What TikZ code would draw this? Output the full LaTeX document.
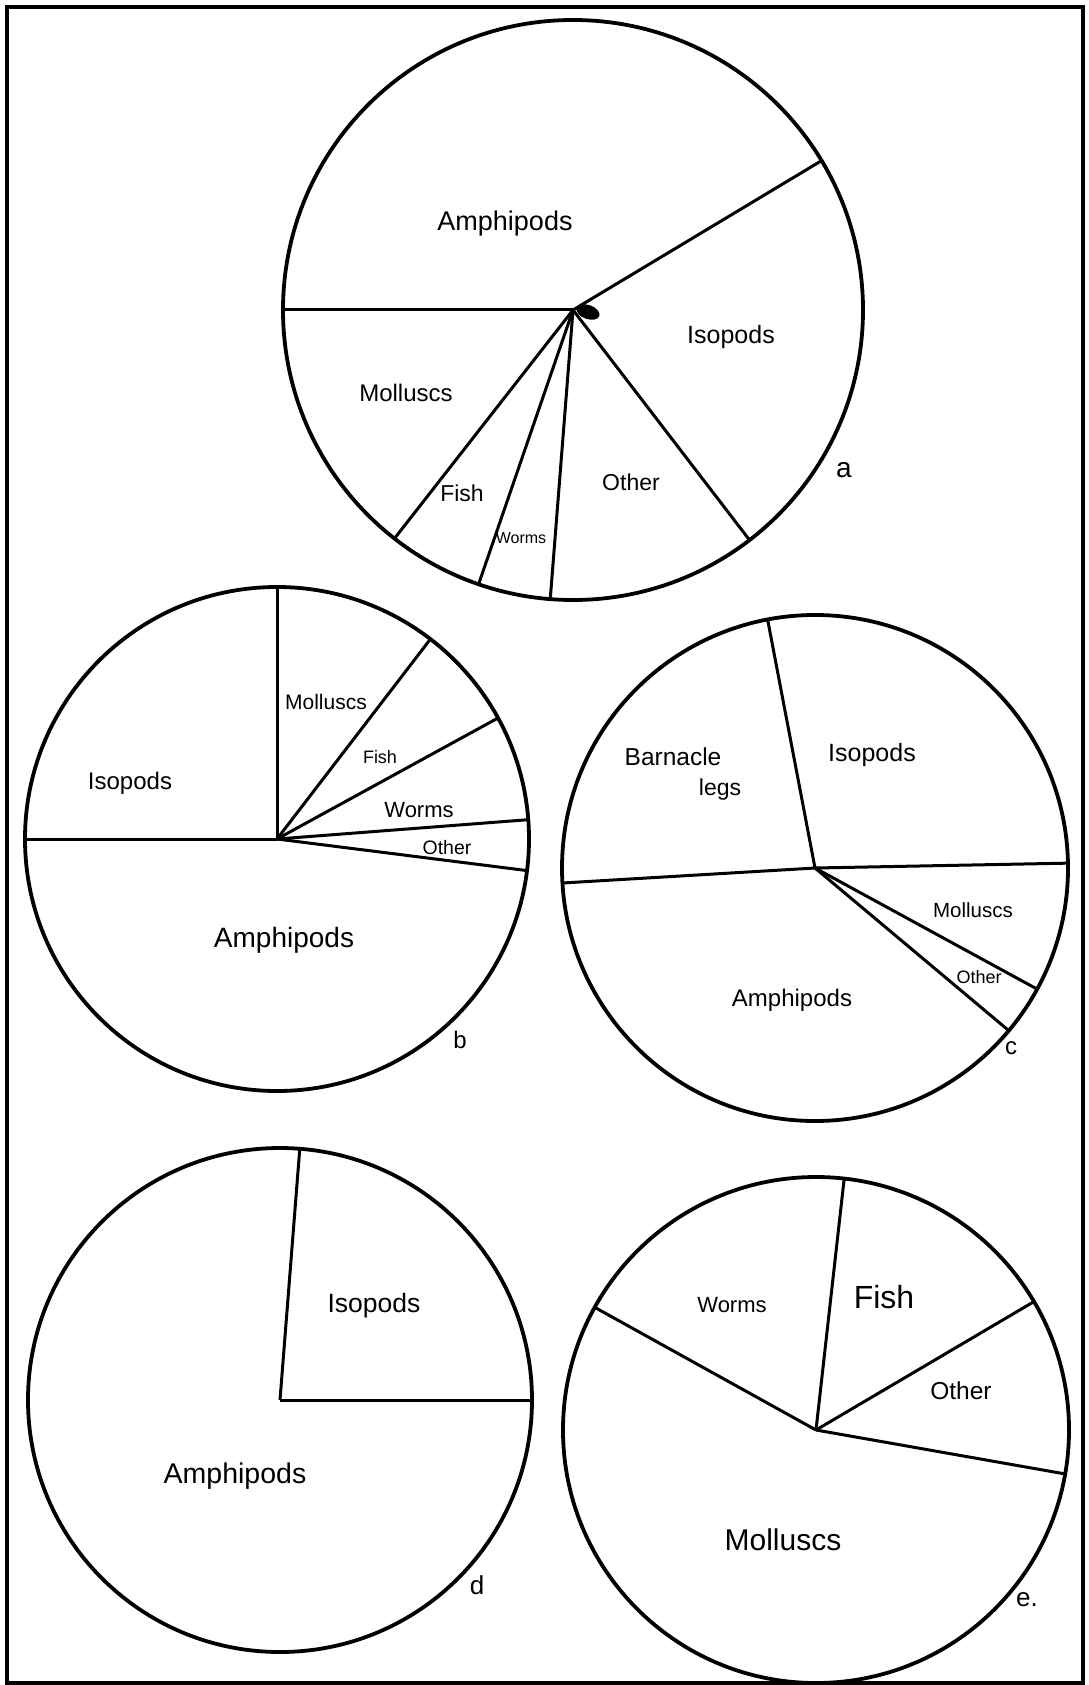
\documentclass[tikz,border=0pt]{standalone}
\usepackage{fontspec}
\setmainfont{Liberation Sans}
\newcommand{\fs}[1]{\fontsize{#1}{#1}\selectfont}
\begin{document}
\begin{tikzpicture}[x=1pt,y=-1pt,
  pie/.style={line width=3.8pt},
  spk/.style={line width=3pt},
  frm/.style={line width=3.4pt},
  lab/.style={inner sep=0pt,text=black}]
\useasboundingbox (0,0) rectangle (1088,1685);
\draw[frm] (7,7) rectangle (1083,1683);

% ---------- pie a ----------
\coordinate (ca) at (573,310);
\draw[pie] (ca) circle[radius=290];
\foreach \a in {31,180,232,251,265.5,307.5} \draw[spk] (ca) -- ++(-\a:290);
\fill[rotate around={-20:(588,312)}] (588,312) ellipse [x radius=12, y radius=7];
\node[lab,font=\fs{27}] (aAmph) at (505,224) {Amphipods};
\node[lab,font=\fs{25}] (aIso) at (731,337) {Isopods};
\node[lab,font=\fs{24}] (aMol) at (406,393) {Molluscs};
\node[lab,font=\fs{23}] (aFish) at (462,493) {Fish};
\node[lab,font=\fs{16}] (aWorm) at (521,538) {Worms};
\node[lab,font=\fs{23}] (aOth) at (631,482) {Other};
\node[lab,font=\fs{28}] (aTag) at (844,470) {a};

% ---------- pie b ----------
\coordinate (cb) at (277,839);
\draw[pie] (cb) circle[radius=252];
\foreach \a in {90,180,52.5,28.7,4.4,-7.2} \draw[spk] (cb) -- ++(-\a:252);
\node[lab,font=\fs{21}] (bMol) at (326,702) {Molluscs};
\node[lab,font=\fs{18}] (bFish) at (380,757) {Fish};
\node[lab,font=\fs{22}] (bWorm) at (419,810) {Worms};
\node[lab,font=\fs{19.5}] (bOth) at (447,848) {Other};
\node[lab,font=\fs{24}] (bIso) at (130,783) {Isopods};
\node[lab,font=\fs{28}] (bAmph) at (284,940) {Amphipods};
\node[lab,font=\fs{24}] (bTag) at (460,1040) {b};

% ---------- pie c ----------
\coordinate (cc) at (815,868);
\draw[pie] (cc) circle[radius=253];
\foreach \a in {100.8,183.4,1.1,-28.6,-40} \draw[spk] (cc) -- ++(-\a:253);
\node[lab,font=\fs{24.5}] (cBar) at (673,757) {Barnacle};
\node[lab,font=\fs{23}] (cLeg) at (720,790) {legs};
\node[lab,font=\fs{25}] (cIso) at (872,755) {Isopods};
\node[lab,font=\fs{20.5}] (cMol) at (973,910) {Molluscs};
\node[lab,font=\fs{18}] (cOth) at (979,977) {Other};
\node[lab,font=\fs{24}] (cAmph) at (792,1000) {Amphipods};
\node[lab,font=\fs{24}] (cTag) at (1011,1048) {c};

% ---------- pie d ----------
\coordinate (cd) at (280,1400);
\draw[pie] (cd) circle[radius=252];
\foreach \a in {85.5,0} \draw[spk] (cd) -- ++(-\a:252);
\node[lab,font=\fs{26.5}] (dIso) at (374,1306) {Isopods};
\node[lab,font=\fs{28.5}] (dAmph) at (235,1476) {Amphipods};
\node[lab,font=\fs{26}] (dTag) at (477,1585) {d};

% ---------- pie e ----------
\coordinate (ce) at (816,1430);
\draw[pie] (ce) circle[radius=253];
\foreach \a in {151,83.6,30.5,-10} \draw[spk] (ce) -- ++(-\a:253);
\node[lab,font=\fs{22}] (eWorm) at (732,1305) {Worms};
\node[lab,font=\fs{32}] (eFish) at (884,1297) {Fish};
\node[lab,font=\fs{24.5}] (eOth) at (961,1391) {Other};
\node[lab,font=\fs{30}] (eMol) at (783,1540) {Molluscs};
\node[lab,font=\fs{26}] (eTag) at (1027,1600) {e.};
\end{tikzpicture}
\end{document}
